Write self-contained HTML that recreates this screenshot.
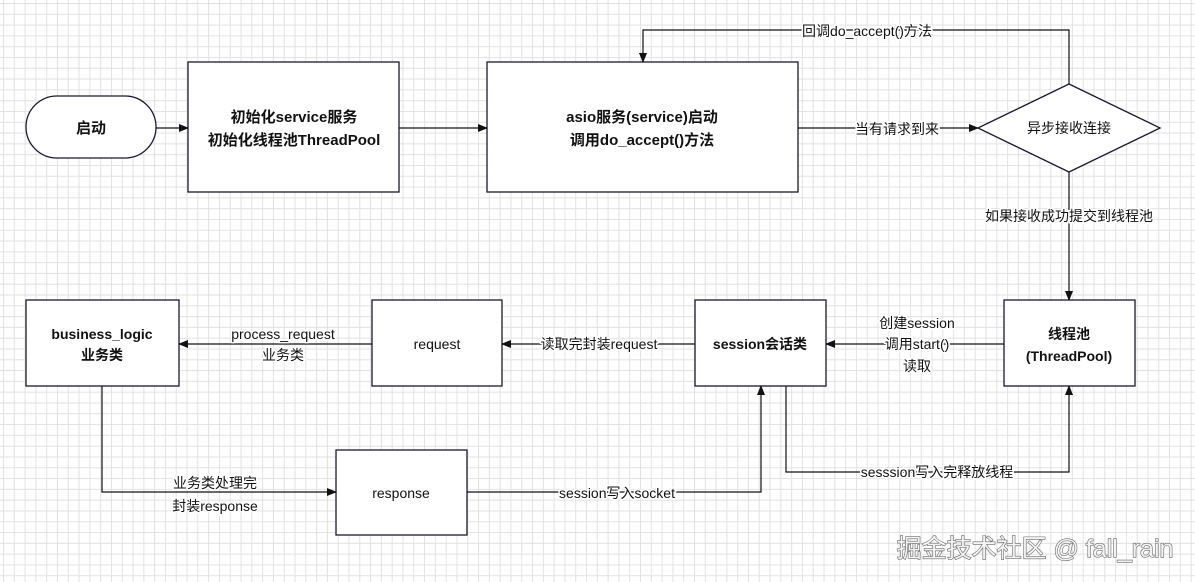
<!DOCTYPE html>
<html><head><meta charset="utf-8"><style>
html,body{margin:0;padding:0;}
body{width:1195px;height:582px;overflow:hidden;background-color:#fff;
background-image:linear-gradient(#e2e2e2 1px,transparent 1px),linear-gradient(90deg,#e2e2e2 1px,transparent 1px);
background-size:10.8px 10.8px;background-position:3px 3px;}
svg{position:absolute;left:0;top:0;}
text{font-family:"Liberation Sans","Noto Sans CJK SC",sans-serif;font-size:14px;fill:#111;}
.b{font-weight:bold;}
.lbl{paint-order:stroke;stroke:#fff;stroke-width:3px;}
</style></head><body>
<svg width="1195" height="582" viewBox="0 0 1195 582">
<defs><marker id="a" markerWidth="10" markerHeight="10" refX="9" refY="5" orient="auto" markerUnits="userSpaceOnUse"><path d="M0,1 L10,5 L0,9 Z" fill="#111"/></marker></defs>
<g fill="#fff" stroke="#1a1a2e" stroke-width="1.3">
<rect x="26" y="96" width="130" height="62" rx="31"/>
<rect x="188" y="62" width="211" height="130"/>
<rect x="487" y="62" width="311" height="130"/>
<polygon points="978,128 1069,84 1160,128 1069,172"/>
<rect x="1004" y="300" width="131" height="86"/>
<rect x="695" y="300" width="131" height="86"/>
<rect x="372" y="300" width="130" height="86"/>
<rect x="26" y="300" width="153" height="86"/>
<rect x="336" y="450" width="131" height="85"/>
</g>
<g fill="none" stroke="#111" stroke-width="1.2">
<line x1="156" y1="128" x2="188" y2="128" marker-end="url(#a)"/>
<line x1="399" y1="128" x2="487" y2="128" marker-end="url(#a)"/>
<line x1="798" y1="128" x2="978" y2="128" marker-end="url(#a)"/>
<polyline points="1069,84 1069,30 643,30 643,62" marker-end="url(#a)"/>
<line x1="1069" y1="172" x2="1069" y2="300" marker-end="url(#a)"/>
<line x1="1004" y1="344" x2="826" y2="344" marker-end="url(#a)"/>
<line x1="695" y1="344" x2="502" y2="344" marker-end="url(#a)"/>
<line x1="372" y1="344" x2="179" y2="344" marker-end="url(#a)"/>
<polyline points="102,386 102,492 336,492" marker-end="url(#a)"/>
<polyline points="467,492 761,492 761,386" marker-end="url(#a)"/>
<polyline points="786,386 786,472 1069,472 1069,386" marker-end="url(#a)"/>
</g>
<g text-anchor="middle">
<text x="91" y="133" class="b" style="font-size:15px">启动</text>
<text x="294" y="122" class="b" style="font-size:15px">初始化service服务</text>
<text x="294" y="145" class="b" style="font-size:15px">初始化线程池ThreadPool</text>
<text x="642" y="122" class="b" style="font-size:15px">asio服务(service)启动</text>
<text x="642" y="145" class="b" style="font-size:15px">调用do_accept()方法</text>
<text x="1069" y="133">异步接收连接</text>
<text x="1069" y="339" class="b">线程池</text>
<text x="1069" y="361" class="b">(ThreadPool)</text>
<text x="760" y="349" class="b">session会话类</text>
<text x="437" y="349">request</text>
<text x="102" y="339" class="b">business_logic</text>
<text x="102" y="360" class="b">业务类</text>
<text x="401" y="498">response</text>
<g class="lbl">
<text x="867" y="36">回调do_accept()方法</text>
<text x="897" y="134">当有请求到来</text>
<text x="1069" y="221">如果接收成功提交到线程池</text>
<text x="917" y="328">创建session</text>
<text x="917" y="349">调用start()</text>
<text x="917" y="371">读取</text>
<text x="599" y="349">读取完封装request</text>
<text x="283" y="339">process_request</text>
<text x="283" y="360">业务类</text>
<text x="215" y="488">业务类处理完</text>
<text x="215" y="511">封装response</text>
<text x="617" y="498">session写入socket</text>
<text x="937" y="477">sesssion写入完释放线程</text>
</g>
<text x="1035" y="557" style="font-size:25px;fill:#f4f4f4;stroke:#666;stroke-width:1.2px;paint-order:stroke">掘金技术社区 @ fall_rain</text>
</g>
</svg>
</body></html>
